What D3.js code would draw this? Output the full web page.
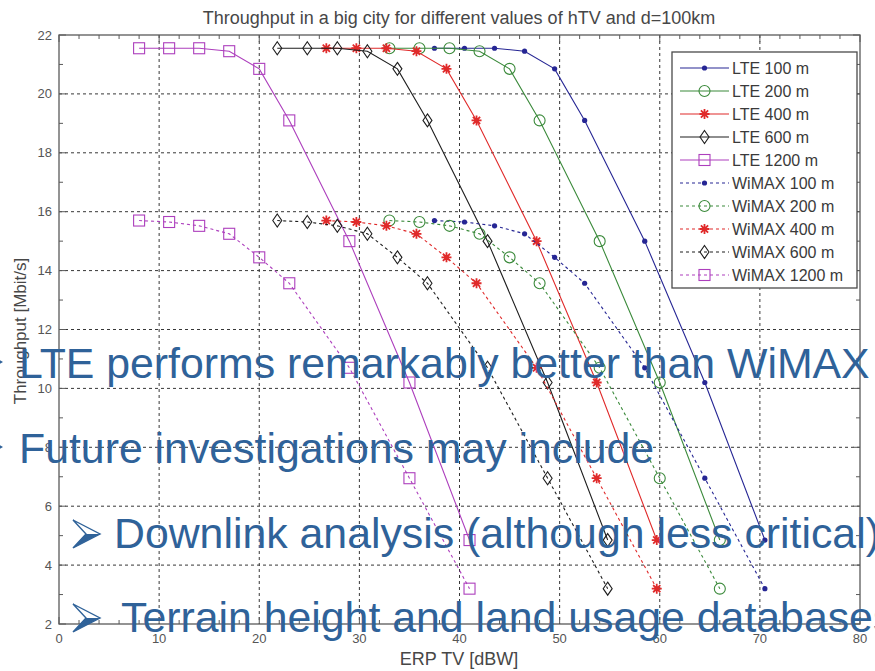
<!DOCTYPE html>
<html>
<head>
<meta charset="utf-8">
<script src="https://cdn.jsdelivr.net/npm/d3@7"></script>
<style>
  html, body { margin: 0; padding: 0; background: #fff; overflow: hidden; }
  svg { display: block; }
</style>
</head>
<body>
<svg id="chart" width="875" height="671"></svg>
<script>
// ERP TV [dBW] sample points for each transmitter height
const erp100  = [37.5, 40.5, 43.5, 46.5, 49.5, 52.5, 58.5, 64.5, 70.5];
const erp200  = [33, 36, 39, 42, 45, 48, 54, 60, 66];
const erp400  = [26.7, 29.7, 32.7, 35.7, 38.7, 41.7, 47.7, 53.7, 59.7];
const erp600  = [21.8, 24.8, 27.8, 30.8, 33.8, 36.8, 42.8, 48.8, 54.8];
const erp1200 = [8, 11, 14, 17, 20, 23, 29, 35, 41];

// Throughput [Mbit/s] at those points
const lteThroughput   = [21.55, 21.55, 21.55, 21.45, 20.85, 19.1, 15.0, 10.2, 4.85];
const wimaxThroughput = [15.7, 15.65, 15.52, 15.25, 14.45, 13.57, 10.7, 6.95, 3.2];

const seriesNames = ["LTE 100 m", "LTE 200 m", "LTE 400 m", "LTE 600 m", "LTE 1200 m",
                     "WiMAX 100 m", "WiMAX 200 m", "WiMAX 400 m", "WiMAX 600 m", "WiMAX 1200 m"];
const seriesErp = [erp100, erp200, erp400, erp600, erp1200, erp100, erp200, erp400, erp600, erp1200];
const seriesThroughput = [lteThroughput, lteThroughput, lteThroughput, lteThroughput, lteThroughput,
                          wimaxThroughput, wimaxThroughput, wimaxThroughput, wimaxThroughput, wimaxThroughput];

const xTicks = [0, 10, 20, 30, 40, 50, 60, 70, 80];
const yTicks = [2, 4, 6, 8, 10, 12, 14, 16, 18, 20, 22];

const bulletLines = [
  "LTE performs remarkably better than WiMAX",
  "Future investigations may include",
  "Downlink analysis (although less critical)",
  "Terrain height and land usage databases"
];

// styling per series
const colors = ["#262694", "#3b8a3b", "#e02a2a", "#1e1e1e", "#ad3fbd"];
const markers = ["dot", "circle", "star", "diamond", "square"];

const svg = d3.select("#chart");
const W = 875, H = 671;
const plot = { left: 59, right: 860, top: 35, bottom: 624 };

const x = d3.scaleLinear().domain([0, 80]).range([plot.left, plot.right]);
const y = d3.scaleLinear().domain([2, 22]).range([plot.bottom, plot.top]);

svg.append("rect").attr("width", W).attr("height", H).attr("fill", "#fff");

// grid
const grid = svg.append("g").attr("stroke", "#222").attr("stroke-width", 1)
  .attr("stroke-dasharray", "3,3").attr("opacity", 0.9);
xTicks.slice(1, -1).forEach(t => {
  grid.append("line").attr("x1", x(t)).attr("x2", x(t)).attr("y1", plot.top).attr("y2", plot.bottom);
});
yTicks.slice(1, -1).forEach(t => {
  grid.append("line").attr("x1", plot.left).attr("x2", plot.right).attr("y1", y(t)).attr("y2", y(t));
});

function drawMarker(g, type, cx, cy, color) {
  const m = g.append("g").attr("transform", `translate(${cx},${cy})`);
  if (type === "dot") {
    m.append("circle").attr("r", 2.6).attr("fill", color);
  } else if (type === "circle") {
    m.append("circle").attr("r", 5.5).attr("fill", "none").attr("stroke", color).attr("stroke-width", 1.1);
  } else if (type === "star") {
    m.append("path").attr("d", "M-5,0H5M0,-5V5M-3.6,-3.6L3.6,3.6M-3.6,3.6L3.6,-3.6")
      .attr("stroke", color).attr("stroke-width", 1.8).attr("fill", "none");
    m.append("circle").attr("r", 2).attr("fill", color);
  } else if (type === "diamond") {
    m.append("path").attr("d", "M0,-6.5L4.5,0L0,6.5L-4.5,0Z")
      .attr("fill", "none").attr("stroke", color).attr("stroke-width", 1.1);
  } else if (type === "square") {
    m.append("rect").attr("x", -5.5).attr("y", -5.5).attr("width", 11).attr("height", 11)
      .attr("fill", "none").attr("stroke", color).attr("stroke-width", 1.1);
  }
}

// series
const line = d3.line().x(d => x(d[0])).y(d => y(d[1]));
const seriesG = svg.append("g");
seriesNames.forEach((name, i) => {
  const k = i % 5;
  const dashed = i >= 5;
  const pts = seriesErp[i].map((e, j) => [e, seriesThroughput[i][j]]);
  seriesG.append("path").datum(pts).attr("d", line)
    .attr("fill", "none").attr("stroke", colors[k]).attr("stroke-width", 1.1)
    .attr("stroke-dasharray", dashed ? "3,3" : null);
  pts.forEach(p => drawMarker(seriesG, markers[k], x(p[0]), y(p[1]), colors[k]));
});

// frame and ticks (inward, on all four sides)
const axisColor = "#5a5a5a";
const frame = svg.append("g").attr("stroke", axisColor).attr("fill", "none");
frame.append("rect").attr("x", plot.left).attr("y", plot.top)
  .attr("width", plot.right - plot.left).attr("height", plot.bottom - plot.top).attr("stroke-width", 1.3);
const xMinor = d3.range(0, 81, 2);
const yMinor = d3.range(2, 22.01, 1);
xMinor.forEach(t => {
  const len = t % 10 === 0 ? 7 : 4;
  frame.append("line").attr("x1", x(t)).attr("x2", x(t)).attr("y1", plot.bottom).attr("y2", plot.bottom - len);
  frame.append("line").attr("x1", x(t)).attr("x2", x(t)).attr("y1", plot.top).attr("y2", plot.top + len);
});
yMinor.forEach(t => {
  const len = t % 2 === 0 ? 7 : 4;
  frame.append("line").attr("x1", plot.left).attr("x2", plot.left + len).attr("y1", y(t)).attr("y2", y(t));
  frame.append("line").attr("x1", plot.right).attr("x2", plot.right - len).attr("y1", y(t)).attr("y2", y(t));
});

const labelFont = "'Liberation Sans', Arial, sans-serif";
const tickG = svg.append("g").attr("font-family", labelFont).attr("font-size", 13).attr("fill", "#555");
xTicks.forEach(t => {
  tickG.append("text").attr("x", x(t)).attr("y", 643).attr("text-anchor", "middle").text(t);
});
yTicks.forEach(t => {
  tickG.append("text").attr("x", 52).attr("y", y(t) + 4.5).attr("text-anchor", "end").text(t);
});

// title and axis labels
svg.append("text").attr("x", 459).attr("y", 24).attr("text-anchor", "middle")
  .attr("font-family", labelFont).attr("font-size", 18).attr("fill", "#474747")
  .text("Throughput in a big city for different values of hTV and d=100km");
svg.append("text").attr("x", 459).attr("y", 665).attr("text-anchor", "middle")
  .attr("font-family", labelFont).attr("font-size", 18).attr("fill", "#474747")
  .text("ERP TV [dBW]");
svg.append("text").attr("transform", "translate(26,331) rotate(-90)").attr("text-anchor", "middle")
  .attr("font-family", labelFont).attr("font-size", 17).attr("fill", "#474747")
  .text("Throughput [Mbit/s]");

// legend
const lg = svg.append("g");
lg.append("rect").attr("x", 672).attr("y", 52).attr("width", 185).attr("height", 236)
  .attr("fill", "#fff").attr("stroke", "#4a4a4a").attr("stroke-width", 1.3);
seriesNames.forEach((name, i) => {
  const k = i % 5;
  const ry = 68 + i * 23;
  lg.append("line").attr("x1", 680).attr("x2", 729).attr("y1", ry).attr("y2", ry)
    .attr("stroke", colors[k]).attr("stroke-width", 1.1)
    .attr("stroke-dasharray", i >= 5 ? "3,3" : null);
  drawMarker(lg, markers[k], 704.5, ry, colors[k]);
  lg.append("text").attr("x", 732).attr("y", ry + 5.5)
    .attr("font-family", labelFont).attr("font-size", 16).attr("fill", "#3a3a3a")
    .text(name);
});

// bullet text on top of the chart
const blue = "#2f6299";
const bulletG = svg.append("g").attr("font-family", labelFont).attr("font-size", 42.8).attr("fill", blue);
const textPos = [[19, 378], [19, 463], [114, 548], [121, 632]];
bulletLines.forEach((t, i) => {
  bulletG.append("text").attr("x", textPos[i][0]).attr("y", textPos[i][1]).text(t);
});
// small partially visible bullets at the left edge for the first two lines
[362, 447].forEach(cy => {
  svg.append("path").attr("d", `M-4,${cy - 4}L3,${cy}L-4,${cy + 4}Z`).attr("fill", blue);
});
// arrow bullets for the sub-items
[[520, 548], [604, 632]].forEach(([top, bot]) => {
  const mid = (top + bot) / 2;
  svg.append("path").attr("d", `M73,${top}L100,${mid}L73,${bot}L86,${mid}Z`)
    .attr("fill", "none").attr("stroke", blue).attr("stroke-width", 1.4).attr("stroke-linejoin", "miter");
  svg.append("path").attr("d", `M86,${mid}L100,${mid}L73,${bot}Z`).attr("fill", blue);
});
</script>
</body>
</html>
